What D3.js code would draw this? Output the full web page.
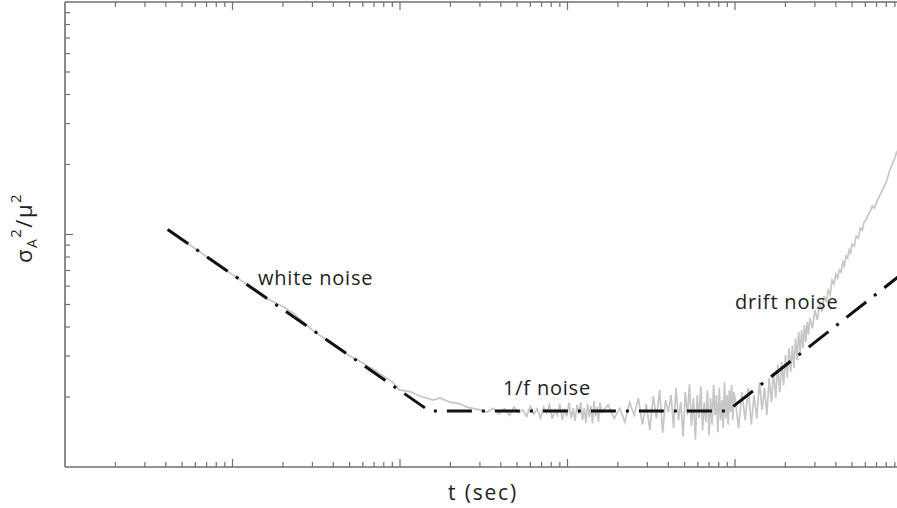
<!DOCTYPE html>
<html lang="en">
<head>
<meta charset="UTF-8">
<title>Allan variance</title>
<script src="https://d3js.org/d3.v7.min.js"></script>
<style>
    body { margin: 0; background: #fff; }
    svg { display: block; }
    .lbl { font-family: "Open Sans", "Noto Sans", sans-serif; fill: #1e1e1e; }
</style>
</head>
<body>
<svg width="897" height="508"></svg>
<script>
// measured data, white noise part (t in sec, sigma^2/mu^2)
const whiteT = [4.1, 5, 6, 8, 10, 13, 16, 20, 23, 26, 30, 35, 40, 50, 60, 70, 80, 90, 100,
    115, 131, 158, 173, 199, 228, 251];
const whiteV = [1.05, 0.951, 0.868, 0.752, 0.672, 0.590, 0.531, 0.49, 0.46, 0.425, 0.388, 0.359, 0.336, 0.301,
    0.28, 0.262, 0.246, 0.232, 0.214, 0.211, 0.202, 0.194, 0.198, 0.190, 0.187, 0.181];

// 1/f plateau
const flickerT = [300, 330, 360, 390, 420, 450, 480, 510, 540, 570, 600, 630, 660, 690, 720, 750, 780, 810,
    840, 870, 900, 930, 960, 990, 1020, 1050, 1080, 1110, 1140, 1170, 1200, 1230, 1260, 1290, 1320, 1350,
    1380, 1410, 1440, 1470, 1500, 1530, 1560,
    1600, 1750, 1900, 2050, 2200, 2350, 2500, 2650, 2800, 2950, 3100, 3250, 3400, 3550, 3700, 3850, 4000,
    4150, 4300, 4450, 4600, 4750, 4900, 5050, 5200, 5350, 5500, 5650, 5800, 5950, 6100, 6250, 6400, 6550,
    6700, 6850, 7000, 7150, 7300, 7450, 7600, 7750, 7900, 8050, 8200, 8350, 8500, 8650, 8800, 8950, 9100,
    9250, 9400, 9550, 9700, 9850];
const flickerV = [0.176, 0.172, 0.179, 0.169, 0.178, 0.167, 0.181, 0.171, 0.176, 0.165, 0.183, 0.169, 0.178,
    0.162, 0.181, 0.171, 0.185, 0.161, 0.176, 0.167, 0.187, 0.159, 0.178, 0.165, 0.189, 0.162, 0.179, 0.158,
    0.185, 0.169, 0.190, 0.159, 0.179, 0.155, 0.187, 0.164, 0.183, 0.154, 0.192, 0.165, 0.181, 0.156, 0.189,
    0.172, 0.185, 0.162, 0.179, 0.156, 0.190, 0.167, 0.198, 0.152, 0.187, 0.144, 0.202, 0.162, 0.214, 0.140,
    0.194, 0.172, 0.204, 0.147, 0.219, 0.159, 0.190, 0.135, 0.210, 0.167, 0.227, 0.150, 0.198, 0.131, 0.204,
    0.162, 0.223, 0.144, 0.190, 0.156, 0.214, 0.137, 0.198, 0.152, 0.225, 0.167, 0.204, 0.141, 0.219, 0.159,
    0.194, 0.147, 0.232, 0.162, 0.204, 0.152, 0.214, 0.172, 0.225, 0.159, 0.210];

// drift part
const driftT = [10000, 10500, 11000, 11500, 12000, 12500, 13000, 13500, 14000, 14500, 15000, 15500, 16000,
    16500, 17000, 17500, 18000, 18500, 19000, 19500, 20000, 20500, 21000, 21500, 22000, 22500, 23000, 23500,
    24000, 24500, 25000, 25500, 26000, 26500, 27000, 27500, 28000, 29000, 30000, 31000, 32000, 33000, 34000,
    35000, 36000, 37000, 38000, 39000, 40000, 41000, 42000, 43000, 44000, 45000, 46000, 47000, 48000, 49000,
    50000, 51500, 53000, 54500, 56000, 57500, 59000, 60500, 62000, 64000, 66000, 68000, 70000, 72000, 74000,
    76000, 78000, 80000, 82000, 84000, 86000, 88000, 90000, 92000, 94000, 96000];
const driftV = [0.198, 0.147, 0.210, 0.159, 0.219, 0.152, 0.204, 0.162, 0.232, 0.176, 0.219, 0.167, 0.242,
    0.190, 0.256, 0.198, 0.275, 0.210, 0.283, 0.225, 0.303, 0.242, 0.324, 0.256, 0.334, 0.266, 0.358, 0.289,
    0.381, 0.312, 0.388, 0.324, 0.408, 0.345, 0.420, 0.372, 0.437, 0.395, 0.473, 0.429, 0.502, 0.465, 0.544,
    0.512, 0.577, 0.550, 0.637, 0.612, 0.676, 0.650, 0.704, 0.690, 0.762, 0.732, 0.808, 0.792, 0.858, 0.833,
    0.910, 0.892, 0.985, 0.966, 1.066, 1.046, 1.131, 1.154, 1.201, 1.250, 1.326, 1.300, 1.380, 1.436, 1.494,
    1.554, 1.617, 1.682, 1.784, 1.894, 1.970, 2.050, 2.134, 2.240, 2.309, 2.40];

// piecewise fit (dash-dot)
const fitT = [4.1, 150, 9000, 100000];
const fitV = [1.05, 0.174, 0.174, 0.68];

const labels = [
    { text: "white noise", t: 14.2, v: 0.607 },
    { text: "1/f noise", t: 412, v: 0.204 },
    { text: "drift noise", t: 10000, v: 0.478 }
];

const svg = d3.select("svg");
const x = d3.scaleLog().domain([1, 1e5]).range([65, 902.5]);
const y = d3.scaleLog().domain([0.1, 10]).range([467, 2]);

svg.append("clipPath").attr("id", "plot")
    .append("rect").attr("x", 65).attr("y", 2).attr("width", 840).attr("height", 465);

const line = d3.line().x(d => x(d[0])).y(d => y(d[1]));

const grey = d3.zip(whiteT.concat(flickerT, driftT), whiteV.concat(flickerV, driftV));
svg.append("path")
    .datum(grey)
    .attr("clip-path", "url(#plot)")
    .attr("fill", "none")
    .attr("stroke", "#c6c6c6")
    .attr("stroke-width", 1.7)
    .attr("d", line);

svg.append("path")
    .datum(d3.zip(fitT, fitV))
    .attr("clip-path", "url(#plot)")
    .attr("fill", "none")
    .attr("stroke", "#111")
    .attr("stroke-width", 3)
    .attr("stroke-dasharray", "25,10,3,10")
    .attr("d", line);

// frame + inward ticks
const g = svg.append("g").attr("stroke", "#6f6f6f").attr("fill", "none");
g.append("line").attr("x1", 65).attr("x2", 905).attr("y1", 467).attr("y2", 467).attr("stroke-width", 1.6);
g.append("line").attr("x1", 65).attr("x2", 905).attr("y1", 2).attr("y2", 2).attr("stroke-width", 1.6);
g.append("line").attr("x1", 65).attr("x2", 65).attr("y1", 2).attr("y2", 467).attr("stroke-width", 1.6);

const isMajor = d => Math.abs(Math.log10(d) - Math.round(Math.log10(d))) < 1e-6;
x.ticks().forEach(d => {
    const len = isMajor(d) ? 8 : 5;
    const px = x(d);
    if (px <= 66 || px > 897) return;
    g.append("line").attr("x1", px).attr("x2", px).attr("y1", 467).attr("y2", 467 - len).attr("stroke-width", 1.2);
    g.append("line").attr("x1", px).attr("x2", px).attr("y1", 2).attr("y2", 2 + len).attr("stroke-width", 1.2);
});
y.ticks().forEach(d => {
    const len = isMajor(d) ? 8 : 5;
    const py = y(d);
    if (py <= 3 || py >= 466) return;
    g.append("line").attr("x1", 65).attr("x2", 65 + len).attr("y1", py).attr("y2", py).attr("stroke-width", 1.2);
});

// text
svg.selectAll(".note").data(labels).enter().append("text")
    .attr("class", "lbl note")
    .attr("x", d => x(d.t))
    .attr("y", d => y(d.v))
    .attr("font-size", 20)
    .attr("letter-spacing", 0.8)
    .text(d => d.text);

svg.append("text").attr("class", "lbl")
    .attr("x", 483).attr("y", 500)
    .attr("text-anchor", "middle")
    .attr("font-size", 21)
    .attr("letter-spacing", 1.8)
    .text("t (sec)");

const yl = svg.append("text").attr("class", "lbl")
    .attr("transform", "translate(32,228) rotate(-90)")
    .attr("text-anchor", "middle")
    .attr("font-size", 22)
    .attr("letter-spacing", 1.5);
yl.append("tspan").text("σ");
yl.append("tspan").attr("font-size", 14).attr("dy", 5).text("A");
yl.append("tspan").attr("font-size", 15).attr("dy", -16).text("2");
yl.append("tspan").attr("dy", 11).text("/μ");
yl.append("tspan").attr("font-size", 15).attr("dy", -11).text("2");
</script>
</body>
</html>
